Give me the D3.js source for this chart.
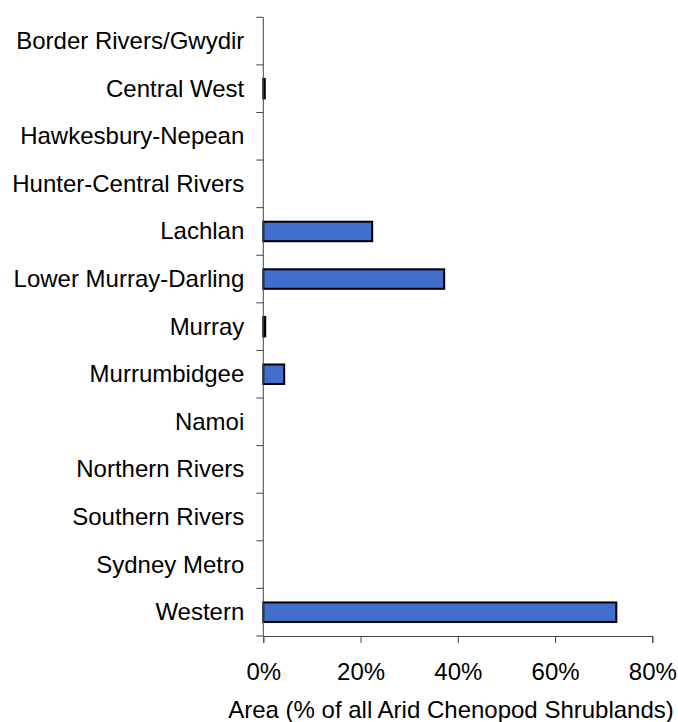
<!DOCTYPE html>
<html>
<head>
<meta charset="utf-8">
<script src="https://cdn.jsdelivr.net/npm/d3@7"></script>
<style>
  body { margin: 0; background: #fff; }
  text { font-family: Arial, "Liberation Sans", sans-serif; }
</style>
</head>
<body>
<div id="chart"></div>
<script>
// data
let regions = ["Border Rivers/Gwydir", "Central West", "Hawkesbury-Nepean", "Hunter-Central Rivers",
  "Lachlan", "Lower Murray-Darling", "Murray", "Murrumbidgee", "Namoi", "Northern Rivers",
  "Southern Rivers", "Sydney Metro", "Western"];
let areaPct = [0, 0.3, 0, 0, 22.4, 37.2, 0.4, 4.3, 0, 0, 0, 0, 72.6];
let xTicks = [0, 20, 40, 60, 80];

let width = 678, height = 722;
let margin = {top: 17.3, right: 25.7, bottom: 86, left: 263.3};
let plotW = width - margin.left - margin.right;
let plotH = height - margin.top - margin.bottom;
let fontSize = "24px";

let svg = d3.select("#chart")
    .append("svg")
    .attr("width", width)
    .attr("height", height)
    .append("g")
    .attr("transform", `translate(${margin.left}, ${margin.top})`);

let x = d3.scaleLinear().domain([0, 80]).range([0, plotW]);
let y = d3.scaleBand().domain(regions).range([0, plotH]).paddingInner(0.59).paddingOuter(0.295);
let yBand = d3.scaleBand().domain(regions).range([0, plotH]);

let data = regions.map(function(r, i) { return {region: r, value: areaPct[i]}; });

// bars
svg.selectAll("rect.bar").data(data.filter(function(d) { return d.value > 0; }))
    .enter()
    .append("rect")
    .attr("class", "bar")
    .attr("x", x(0))
    .attr("y", function(d) { return y(d.region); })
    .attr("width", function(d) { return Math.max(x(d.value) - x(0), 1.5); })
    .attr("height", y.bandwidth())
    .attr("fill", "#416dcc")
    .attr("stroke", "#000")
    .attr("stroke-width", 2);

// y axis line + ticks at category boundaries
let axisColor = "#444";
svg.append("line")
    .attr("x1", 0).attr("x2", 0)
    .attr("y1", 0).attr("y2", plotH)
    .attr("stroke", axisColor).attr("stroke-width", 1);

let bounds = regions.map(function(r) { return yBand(r); }).concat([plotH]);
svg.selectAll("line.ytick").data(bounds)
    .enter()
    .append("line")
    .attr("class", "ytick")
    .attr("x1", -7).attr("x2", 0)
    .attr("y1", function(d) { return d; })
    .attr("y2", function(d) { return d; })
    .attr("stroke", axisColor);

svg.selectAll("text.ylab").data(regions)
    .enter()
    .append("text")
    .attr("class", "ylab")
    .attr("x", -19)
    .attr("y", function(d) { return yBand(d) + yBand.bandwidth() / 2; })
    .attr("dy", "0.33em")
    .style("text-anchor", "end")
    .style("font-size", fontSize)
    .style("fill", "#000")
    .text(function(d) { return d; });

// x axis
let xAxis = svg.append("g")
    .attr("transform", `translate(0, ${plotH})`)
    .call(d3.axisBottom(x).tickValues(xTicks).tickSize(7).tickPadding(20)
      .tickFormat(function(d) { return d + "%"; }));
xAxis.select(".domain").attr("stroke", axisColor);
xAxis.selectAll(".tick line").attr("stroke", axisColor);
xAxis.selectAll("text")
    .style("font-size", fontSize)
    .style("font-family", "Arial, 'Liberation Sans', sans-serif")
    .style("fill", "#000");

svg.append("text")
    .attr("x", 451 - margin.left)
    .attr("y", plotH + 82)
    .style("text-anchor", "middle")
    .style("font-size", fontSize)
    .text("Area (% of all Arid Chenopod Shrublands)");
</script>
</body>
</html>
